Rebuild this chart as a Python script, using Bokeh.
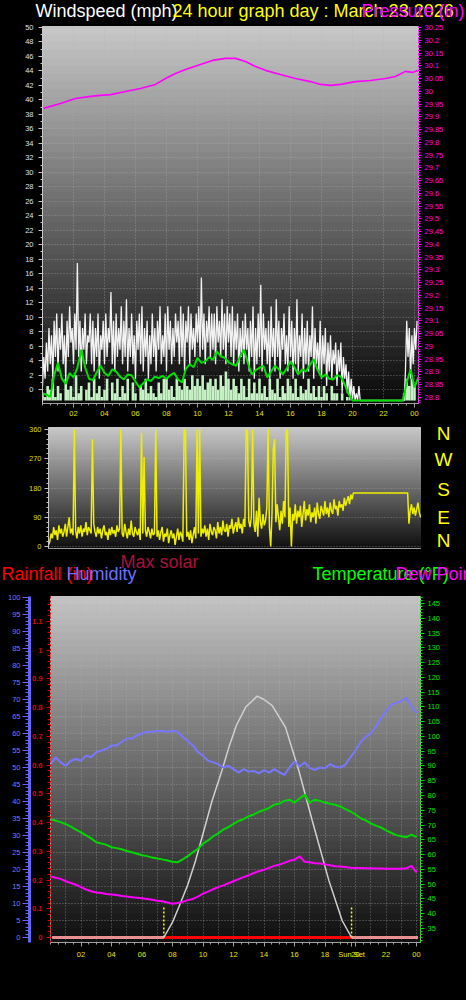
from bokeh.plotting import figure
from bokeh.models import (Range1d, LinearAxis, FixedTicker, NumeralTickFormatter, Label,
                          BoxAnnotation, GlobalInlineStyleSheet)
from bokeh.layouts import column, row
from bokeh.embed import file_html
from bokeh.resources import INLINE

FONT = "Liberation Sans"

# ---------------- texts ----------------
chart_title = "24 hour graph day : March 23 2026"
wind_title = "Windspeed (mph)"
press_title = "Pressure (in)"
rain_title = "Rainfall (in)"
hum_title = "Humidity"
solar_title = "Max solar"
temp_title = "Temperature (°F)"
dew_title = "Dew Point (°F)"
sunset_text = "Sun Set"
compass_labels = ["N", "W", "S", "E", "N"]

# ---------------- ticks ----------------
hour_ticks = [2, 4, 6, 8, 10, 12, 14, 16, 18, 20, 22, 24]
hour_labels = ["02", "04", "06", "08", "10", "12", "14", "16", "18", "20", "22", "00"]
hour_grid = [1, 2, 3, 4, 5, 6, 7, 8, 9, 10, 11, 12, 13, 14, 15, 16, 17, 18, 19, 20, 21, 22, 23, 24]
half_hours = [h / 2 for h in range(0, 49)]
wind_ticks = list(range(0, 51, 2))
wind_minor = list(range(0, 51))
press_ticks = [round(28.8 + 0.05 * i, 2) for i in range(30)]
press_minor = [round(28.78 + 0.01 * i, 2) for i in range(150)]
dir_ticks = [0, 90, 180, 270, 360]
dir_minor = list(range(0, 361, 15))
hum_ticks = list(range(0, 101, 5))
hum_minor = list(range(0, 101))
rain_ticks = [0, 0.1, 0.2, 0.3, 0.4, 0.5, 0.6, 0.7, 0.8, 0.9, 1.0, 1.1]
rain_minor = [round(0.02 * i, 2) for i in range(0, 59)]
temp_ticks = list(range(35, 146, 5))
temp_minor = list(range(31, 148))

# ---------------- wind (mph), 5-minute gusts ----------------
gust = [
    2, 6, 3, 8, 4, 10, 5, 9, 3, 11, 6, 12,
    4, 10, 7, 12, 5, 9, 3, 11, 6, 13, 8, 10,
    5, 12, 7, 19, 6, 11, 4, 10, 7, 12, 5, 9,
    8, 12, 5, 11, 4, 10, 6, 12, 3, 9, 7, 11,
    5, 12, 6, 10, 8, 15, 5, 11, 4, 12, 6, 10,
    7, 13, 5, 11, 6, 14, 4, 10, 6, 12, 5, 9,
    3, 11, 7, 12, 5, 13, 4, 10, 6, 11, 3, 9,
    5, 12, 6, 10, 4, 11, 7, 13, 5, 9, 6, 12,
    4, 13, 7, 11, 5, 10, 6, 12, 8, 11, 5, 13,
    6, 12, 4, 11, 8, 13, 5, 12, 7, 10, 6, 12,
    8, 13, 6, 17, 7, 12, 5, 11, 8, 13, 6, 12,
    7, 12, 5, 13, 8, 11, 6, 14, 7, 12, 5, 13,
    8, 12, 6, 13, 5, 11, 7, 12, 4, 10, 6, 11,
    5, 12, 7, 10, 4, 11, 6, 13, 3, 10, 5, 12,
    6, 16, 4, 12, 7, 10, 5, 11, 3, 13, 6, 10,
    4, 14, 6, 11, 3, 10, 7, 12, 5, 9, 4, 13,
    6, 11, 3, 10, 5, 14, 4, 9, 6, 12, 3, 10,
    5, 11, 4, 9, 6, 13, 3, 10, 5, 8, 4, 11,
    3, 9, 5, 10, 2, 8, 4, 9, 3, 7, 5, 8,
    2, 7, 4, 8, 1, 6, 3, 5, 1, 4, 0, 3,
    0, 2, 0, 1, 0, 2, 0, 0, 0, 0, 0, 0,
    0, 0, 0, 0, 0, 0, 0, 0, 0, 0, 0, 0,
    0, 0, 0, 0, 0, 0, 0, 0, 0, 0, 0, 0,
    0, 0, 0, 0, 0, 4, 11, 6, 10, 3, 9, 5,
    10, 7, 11,
]
gust_hours = [i * 5 / 60 for i in range(len(gust))]

# 10-minute wind speed (light green)
speed = [
    1.0, 0.5, 2.0, 1.5, 3.0, 0.5,
    2.0, 1.0, 0.0, 3.0, 1.5, 2.0,
    0.5, 3.5, 1.0, 2.0, 0.0, 1.5,
    2.5, 0.5, 3.0, 1.0, 2.0, 0.5,
    1.5, 3.0, 0.0, 2.5, 1.0, 3.0,
    0.5, 2.0, 1.0, 3.0, 0.0, 2.5,
    1.0, 0.0, 2.0, 1.5, 3.0, 1.0,
    2.0, 1.0, 0.5, 2.5, 1.0, 3.0,
    3.0, 1.5, 2.0, 0.5, 3.0, 2.0,
    1.5, 3.0, 2.0, 1.5, 3.5, 2.0,
    3.0, 2.0, 3.5, 1.5, 2.5, 3.0,
    2.0, 3.0, 1.5, 3.5, 2.0, 4.0,
    3.0, 1.5, 3.0, 2.0, 1.0, 3.0,
    2.0, 0.5, 3.0, 1.0, 2.5, 1.0,
    3.0, 1.0, 2.0, 0.5, 3.0, 1.5,
    1.0, 3.0, 0.5, 2.0, 1.0, 3.0,
    2.0, 1.0, 3.0, 0.5, 2.0, 1.0,
    1.5, 3.0, 1.0, 2.0, 0.5, 2.0,
    0.5, 2.0, 1.0, 0.0, 2.0, 1.0,
    1.0, 0.0, 1.0, 0.0, 0.5, 0.0,
    0.0, 0.0, 0.0, 0.0, 0.0, 0.0,
    0.0, 0.0, 0.0, 0.0, 0.0, 0.0,
    0.0, 0.0, 0.0, 0.0, 0.0, 0.0,
    0.0, 0.0, 1.0, 3.0, 2.0, 3.0,
    2.0,
]
speed_hours = [i * 10 / 60 for i in range(len(speed))]

# 15-minute average wind (green)
avg_wind = [
    1.0, 0.8, 0.5, 3.5,
    5.2, 3.0, 2.3, 3.8,
    3.2, 4.5, 7.0, 4.6,
    3.0, 2.8, 3.9, 4.8,
    3.8, 3.4, 4.3, 4.0,
    3.3, 2.9, 3.6, 3.5,
    2.6, 1.8, 2.4, 2.9,
    2.7, 3.3, 3.1, 3.4,
    3.0, 3.5, 3.8, 2.9,
    2.5, 4.4, 5.0, 4.6,
    5.9, 5.2, 5.4, 6.0,
    5.6, 6.8, 6.1, 5.9,
    5.3, 5.0, 4.8, 6.1,
    7.0, 5.2, 3.6, 4.2,
    4.5, 4.8, 3.2, 4.0,
    4.8, 4.3, 3.6, 4.4,
    5.4, 4.6, 3.6, 4.3,
    4.0, 4.9, 5.7, 4.2,
    3.2, 3.6, 3.0, 2.9,
    3.5, 3.3, 2.2, 0.9,
    0.0, 0.0, 0.0, 0.0,
    0.0, 0.0, 0.0, 0.0,
    0.0, 0.0, 0.0, 0.0,
    0.0, 0.0, 2.5, 4.3,
    1.8, 3.2,
]
avg_hours = [i * 15 / 60 for i in range(len(avg_wind))]

# barometer (in)
press_hours = [0.06, 1.16, 2.13, 3.10, 3.74, 4.39, 5.35, 6.32, 7.29, 7.94, 8.58, 9.23, 10.19,
               10.97, 11.81, 12.45, 13.10, 13.74, 14.39, 15.35, 16.32, 17.29, 17.94, 18.58,
               19.23, 20.19, 21.16, 22.13, 22.77, 23.42, 23.87, 24.26]
pressure = [29.933, 29.952, 29.972, 29.980, 29.984, 29.987, 29.999, 30.011, 30.027, 30.050,
            30.070, 30.085, 30.105, 30.121, 30.129, 30.129, 30.117, 30.097, 30.082, 30.066,
            30.050, 30.038, 30.027, 30.023, 30.027, 30.038, 30.042, 30.050, 30.058, 30.078,
            30.074, 30.082]

# ---------------- wind direction (deg), 5-minute ----------------
direction = [
    5, 15, 40, 25, 60, 35, 50, 20, 65, 40, 55, 30,
    45, 70, 30, 60, 90, 40, 55, 35, 360, 50, 25, 60,
    40, 65, 30, 55, 45, 75, 35, 60, 50, 40, 330, 70,
    45, 30, 60, 40, 55, 25, 50, 65, 35, 45, 20, 55,
    35, 60, 40, 50, 30, 65, 45, 55, 360, 40, 30, 70,
    45, 25, 55, 35, 80, 40, 30, 60, 45, 35, 55, 20,
    350, 40, 275, 50, 30, 60, 45, 25, 55, 35, 40, 360,
    30, 50, 20, 45, 60, 15, 40, 30, 55, 10, 35, 50,
    25, 40, 5, 30, 55, 20, 45, 35, 15, 360, 355, 30,
    45, 20, 50, 10, 35, 60, 25, 360, 40, 360, 30, 55,
    40, 65, 30, 55, 20, 70, 45, 35, 60, 50, 25, 75,
    40, 60, 35, 80, 50, 45, 70, 30, 65, 55, 85, 40,
    60, 75, 45, 90, 55, 70, 40, 85, 60, 360, 355, 80,
    60, 90, 360, 70, 45, 110, 30, 150, 75, 55, 100, 65,
    80, 120, 360, 60, 0, 100, 300, 330, 75, 130, 90, 50,
    110, 70, 140, 90, 360, 355, 60, 120, 0, 100, 80, 130,
    70, 110, 90, 125, 60, 100, 140, 80, 115, 95, 130, 75,
    105, 90, 120, 70, 135, 100, 85, 125, 110, 95, 140, 100,
    120, 90, 135, 110, 100, 145, 115, 125, 95, 140, 120, 130,
    110, 150, 125, 140, 155, 130, 160, 145, 165, 165, 165, 165,
    165, 165, 165, 165, 165, 165, 165, 165, 165, 165, 165, 165,
    165, 165, 165, 165, 165, 165, 165, 165, 165, 165, 165, 165,
    165, 165, 165, 165, 165, 165, 165, 165, 165, 165, 165, 165,
    165, 165, 165, 70, 110, 130, 100, 120, 95, 115, 135, 105,
    90,
]
dir_hours = [i * 5 / 60 for i in range(len(direction))]

# ---------------- humidity / temperature / dew point, 20-minute ----------------
humidity = [
    51.0, 53.0, 51.5, 50.5, 52.0, 52.5, 52.0, 53.5, 53.0, 54.5, 55.0, 55.5,
    56.5, 56.5, 57.5, 58.5, 58.5, 59.5, 60.0, 60.5, 60.5, 60.7, 60.7, 60.5,
    60.7, 60.5, 59.0, 57.8, 56.5, 54.5, 53.5, 52.0, 51.5, 51.0, 50.0, 50.5,
    49.5, 48.5, 49.5, 48.8, 49.0, 48.3, 49.2, 48.5, 49.5, 48.6, 47.8, 50.0,
    51.8, 50.3, 51.5, 49.8, 49.3, 50.0, 49.8, 51.0, 50.2, 50.0, 50.8, 53.0,
    55.0, 57.5, 59.0, 60.0, 62.0, 64.5, 66.5, 68.5, 69.0, 69.5, 70.5, 68.0,
    66.0,
]
temperature = [
    72.0, 71.5, 71.0, 70.3, 69.5, 68.5, 67.5, 66.5, 65.5, 64.2, 63.8, 63.3,
    62.5, 62.2, 61.8, 61.2, 60.8, 60.3, 59.8, 59.5, 59.0, 58.7, 58.4, 58.0,
    57.6, 57.4, 58.4, 59.5, 60.8, 62.0, 63.7, 64.8, 66.2, 67.2, 68.5, 69.3,
    70.4, 71.4, 72.0, 73.0, 73.6, 74.5, 75.1, 75.8, 76.9, 77.3, 78.2, 78.6,
    77.6, 79.0, 80.3, 77.6, 78.6, 78.2, 77.6, 77.2, 76.9, 76.3, 75.4, 74.6,
    73.6, 72.3, 71.6, 70.6, 69.8, 69.2, 68.2, 67.4, 66.6, 66.2, 65.9, 66.8,
    65.9,
]
dew_point = [
    52.6, 52.2, 51.8, 51.0, 50.4, 49.8, 49.0, 48.2, 47.6, 47.2, 47.0, 46.7,
    46.5, 46.3, 46.0, 45.8, 45.6, 45.4, 45.2, 45.0, 44.7, 44.4, 44.2, 43.8,
    43.4, 43.6, 44.0, 44.6, 45.0, 45.8, 46.8, 47.5, 48.3, 49.0, 49.6, 50.3,
    51.0, 51.7, 52.4, 53.0, 53.8, 54.4, 54.9, 55.5, 56.2, 56.6, 57.2, 57.9,
    58.3, 59.4, 57.6, 57.4, 57.1, 57.0, 56.7, 56.4, 56.1, 56.0, 55.8, 55.6,
    55.5, 55.5, 55.4, 55.4, 55.3, 55.3, 55.2, 55.2, 55.2, 55.2, 55.4, 56.2,
    54.0,
]
thd_hours = [i * 20 / 60 for i in range(len(humidity))]

# max solar (W/m2)
solar_hours = [7.43, 8.0, 8.41, 9.0, 9.51, 10.0, 10.6, 11.2, 11.7, 12.2, 12.79, 13.55,
               14.0, 14.54, 15.41, 16.28, 17.16, 18.25, 19.12, 19.74]
solar = [0, 45, 89, 155, 226, 305, 403, 485, 560, 625, 677, 710,
         700, 682, 618, 491, 344, 168, 50, 0]

# sunrise / sunset and rain
sun_hours = [7.43, 19.74]
rain_hours = [0.1, 24.1]
rain = [0.0, 0.0]
daylight_rain = [0.0, 0.0]

W = 466  # total width (Bokeh's page template has no body margin)


# ---------------- helpers ----------------
def no_align(p):
    if "frame_align" in p.properties():
        p.frame_align = False
    return p


def add_gradient(p, y_start, y_end, top_gray, bottom_gray, bands=48):
    step = (y_end - y_start) / bands
    for i in range(bands):
        frac = (i + 0.5) / bands
        g = int(round(bottom_gray + (top_gray - bottom_gray) * frac))
        p.add_layout(BoxAnnotation(bottom=y_start + i * step, top=y_start + (i + 1.3) * step,
                                   fill_color=(g, g, g), fill_alpha=1.0, line_alpha=0.0,
                                   level="image"))


def style_axis(ax, color, size="7.5px", tick_out=4, minor_out=2, standoff=3, line_color=None):
    ax.major_label_text_color = color
    ax.major_label_text_font = FONT
    ax.major_label_text_font_size = size
    ax.axis_line_color = line_color or color
    ax.major_tick_line_color = line_color or color
    ax.minor_tick_line_color = line_color or color
    ax.major_tick_out = tick_out
    ax.major_tick_in = 0
    ax.minor_tick_out = minor_out
    ax.minor_tick_in = 0
    ax.major_label_standoff = standoff


def base_figure(width, height, x_range, y_range, **kw):
    return no_align(figure(width=width, height=height, x_range=x_range, y_range=y_range,
                           output_backend="svg", toolbar_location=None,
                           background_fill_color="black", border_fill_color="black",
                           outline_line_color="#c8c8c8", outline_line_width=1, **kw))


def text_strip(width, height, x0, y0):
    # a plain black band whose data coordinates equal the picture's pixel coordinates
    s = figure(width=width, height=height, x_range=Range1d(x0, x0 + width),
               y_range=Range1d(y0 + height, y0), output_backend="svg", toolbar_location=None,
               x_axis_location=None, y_axis_location=None, min_border=0,
               background_fill_color="black", border_fill_color="black", outline_line_color=None)
    s.grid.visible = False
    return no_align(s)


def add_text(p, x, y, txt, color, size="18px", align="left"):
    # y is the vertical centre of the text line
    p.add_layout(Label(x=x, y=y, text=txt, text_color=color, text_font=FONT,
                       text_font_size=size, text_align=align, text_baseline="middle"))


# =============== Title band ===============
top_band = text_strip(W, 22, 0, 0)
add_text(top_band, 35, 10.8, wind_title, "#ffffff")
add_text(top_band, 172, 10.8, chart_title, "#ffff00")
add_text(top_band, 361, 10.8, press_title, "#ff00ff")

# =============== Figure 1: wind speed + pressure ===============
p1 = base_figure(W, 399, Range1d(0, 24.26), Range1d(-1.934, 50.138),
                 min_border_left=42, min_border_right=48, min_border_top=4, min_border_bottom=18)
p1.extra_y_ranges = {"wd": Range1d(-0.414, 51.66), "press": Range1d(28.7765, 30.2539)}
add_gradient(p1, -1.934, 50.138, 200, 8)

ya = p1.yaxis[0]
ya.ticker = FixedTicker(ticks=wind_ticks, minor_ticks=wind_minor)
style_axis(ya, "#d8e4ff", standoff=5, line_color="#c8c8c8")
p1.ygrid.ticker = FixedTicker(ticks=wind_ticks)

xa = p1.xaxis[0]
xa.ticker = FixedTicker(ticks=hour_ticks, minor_ticks=half_hours)
xa.major_label_overrides = dict(zip(hour_ticks, hour_labels))
style_axis(xa, "#e4e400", line_color="#a0a0a0")
p1.xgrid.ticker = FixedTicker(ticks=hour_ticks)

for g in (p1.xgrid[0], p1.ygrid[0]):
    g.grid_line_color = "#b4b4b4"
    g.grid_line_dash = "1 2"
    g.grid_line_alpha = 0.55

pax = LinearAxis(y_range_name="press", ticker=FixedTicker(ticks=press_ticks, minor_ticks=press_minor),
                 formatter=NumeralTickFormatter(format="0.[00]"))
style_axis(pax, "#ff00ff", tick_out=3)
pax.axis_line_dash = "2 2"
p1.add_layout(pax, "right")

p1.line(gust_hours, gust, y_range_name="wd", line_color="#f2f2f2", line_width=1.3)
p1.vbar(x=speed_hours, top=speed, bottom=0, width=1 / 6, y_range_name="wd",
        fill_color="#c6f2c6", line_color=None)
p1.line(avg_hours, avg_wind, y_range_name="wd", line_color="#00e000", line_width=2)
p1.line(press_hours, pressure, y_range_name="press", line_color="#ff00ff", line_width=1.6)

# =============== Figure 2: wind direction + compass letters ===============
p2 = base_figure(421, 130, Range1d(0, 24.06), Range1d(-6.15, 366.15), x_axis_location=None,
                 min_border_left=48, min_border_right=0, min_border_top=6, min_border_bottom=3)
add_gradient(p2, -6.15, 366.15, 200, 14)
p2.xgrid.visible = False
da = p2.yaxis[0]
da.ticker = FixedTicker(ticks=dir_ticks, minor_ticks=dir_minor)
style_axis(da, "#dcdc00", line_color="#c8c8c8")
p2.ygrid.ticker = FixedTicker(ticks=dir_ticks)
p2.ygrid.grid_line_color = "#c0c0c0"
p2.ygrid.grid_line_dash = "1 2"
p2.ygrid.grid_line_alpha = 0.5
p2.line(dir_hours, direction, line_color="#eeee00", line_width=1.5)

compass = text_strip(W - 421, 130, 421, 421)
for t, yc in zip(compass_labels, [432.5, 459, 488.5, 516.5, 539.5]):
    add_text(compass, 443, yc, t, "#ffff00", size="19px", align="center")

# =============== Legend band between the charts ===============
mid_band = text_strip(W, 37, 0, 551)
add_text(mid_band, 120, 561.5, solar_title, "#a8103c")
add_text(mid_band, 1, 573.5, rain_title, "#ff0000")
add_text(mid_band, 66, 573.5, hum_title, "#7070ff")
add_text(mid_band, 312, 573.5, temp_title, "#00ff00")
add_text(mid_band, 395, 573.5, dew_title, "#ff00ff")

# =============== Figure 3: humidity / rain / temperature ===============
p3 = base_figure(W, 380, Range1d(0, 24.26), Range1d(-1.47, 100.29), y_axis_location=None,
                 min_border_left=50, min_border_right=46, min_border_top=8, min_border_bottom=26)
p3.extra_y_ranges = {"rain": Range1d(-0.0174, 1.187), "temp": Range1d(30.26, 147.37),
                     "solar": Range1d(-14.7, 1002.9)}
add_gradient(p3, -1.47, 100.29, 196, 14)

rain_axis = LinearAxis(y_range_name="rain", ticker=FixedTicker(ticks=rain_ticks, minor_ticks=rain_minor),
                       formatter=NumeralTickFormatter(format="0.[0]"))
style_axis(rain_axis, "#e00000", tick_out=4, minor_out=3, standoff=4)
rain_axis.major_label_text_font_style = "bold"
rain_axis.axis_line_dash = "2 2"
p3.add_layout(rain_axis, "left")

hum_axis = LinearAxis(ticker=FixedTicker(ticks=hum_ticks, minor_ticks=hum_minor))
style_axis(hum_axis, "#7878ff", tick_out=7, minor_out=4, standoff=2, line_color="#6464ff")
hum_axis.axis_line_width = 3
p3.add_layout(hum_axis, "left")

temp_axis = LinearAxis(y_range_name="temp", ticker=FixedTicker(ticks=temp_ticks, minor_ticks=temp_minor))
style_axis(temp_axis, "#00e000", tick_out=4, minor_out=2, standoff=3)
temp_axis.axis_line_dash = "2 2"
p3.add_layout(temp_axis, "right")

xa3 = p3.xaxis[0]
xa3.ticker = FixedTicker(ticks=hour_ticks + [sun_hours[1]], minor_ticks=half_hours)
overrides3 = dict(zip(hour_ticks, hour_labels))
overrides3[sun_hours[1]] = sunset_text
xa3.major_label_overrides = overrides3
style_axis(xa3, "#e4e400", line_color="#a0a0a0")
p3.xgrid.ticker = FixedTicker(ticks=hour_grid)
p3.ygrid.ticker = FixedTicker(ticks=hum_ticks)
for g in (p3.xgrid[0], p3.ygrid[0]):
    g.grid_line_color = "#b4b4b4"
    g.grid_line_dash = "1 2"
    g.grid_line_alpha = 0.55

p3.line(rain_hours, rain, y_range_name="rain", line_color="#e89090", line_width=3)
p3.line(sun_hours, daylight_rain, y_range_name="rain", line_color="#ff0000", line_width=3)
p3.segment(x0=sun_hours, x1=sun_hours, y0=0, y1=9, line_color="#ffff00", line_width=1.5,
           line_dash="2 2")
p3.line(solar_hours, solar, y_range_name="solar", line_color="#d0d0d0", line_width=1.5)
p3.line(thd_hours, humidity, line_color="#7878ff", line_width=2)
p3.line(thd_hours, temperature, y_range_name="temp", line_color="#00d800", line_width=2)
p3.line(thd_hours, dew_point, y_range_name="temp", line_color="#ff00ff", line_width=2)

layout = column(top_band, p1, row(p2, compass, spacing=0), mid_band, p3, spacing=0,
                stylesheets=[GlobalInlineStyleSheet(css="body { background: #000000; }")])

open("out.html", "w").write(file_html(layout, INLINE))
